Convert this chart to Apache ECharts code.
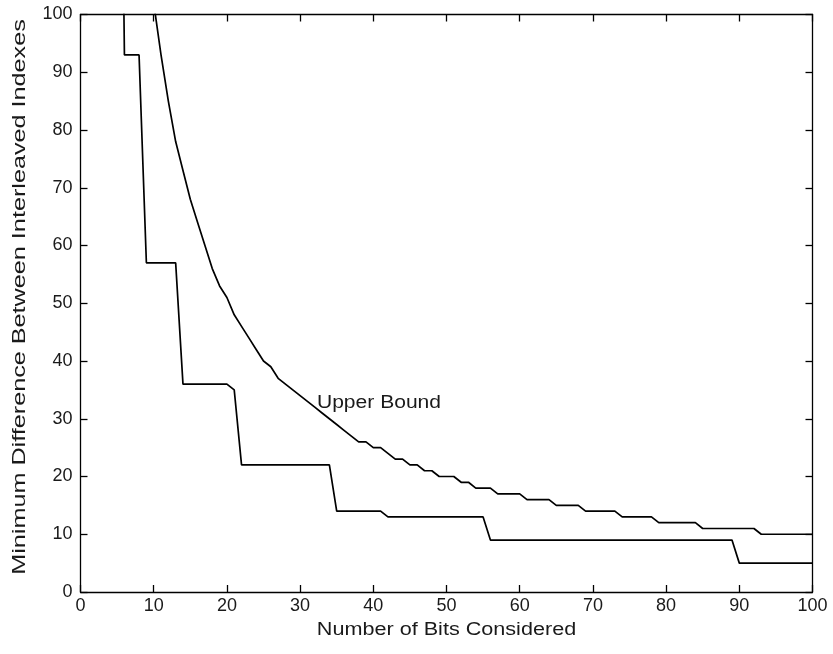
<!DOCTYPE html>
<html>
<head>
<meta charset="utf-8">
<script src="https://cdn.jsdelivr.net/npm/echarts@6/dist/echarts.min.js"></script>
<style>
  html, body { margin: 0; padding: 0; background: #fff; }
  #chart { width: 833px; height: 654px; }
</style>
</head>
<body>
<div id="chart"></div>
<script>
// lower curve: achieved minimum difference, only the corner points
const lowerBits = [5, 6, 8, 9, 13, 14, 20, 21, 22, 34, 35, 41, 42, 55, 56, 89, 90, 100]
const lowerDiff = [200, 93, 93, 57, 57, 36, 36, 35, 22, 22, 14, 14, 13, 13, 9, 9, 5, 5]

// upper bound, one value per bit count starting at 10
const upperStart = 10
const upperDiff = [
  102, 93, 85, 78, 73, 68, 64, 60, 56, 53,
  51, 48, 46, 44, 42, 40, 39, 37, 36, 35,
  34, 33, 32, 31, 30, 29, 28, 27, 26, 26,
  25, 25, 24, 23, 23, 22, 22, 21, 21, 20,
  20, 20, 19, 19, 18, 18, 18, 17, 17, 17,
  17, 16, 16, 16, 16, 15, 15, 15, 15, 14,
  14, 14, 14, 14, 13, 13, 13, 13, 13, 12,
  12, 12, 12, 12, 12, 11, 11, 11, 11, 11,
  11, 11, 11, 10, 10, 10, 10, 10, 10, 10,
  10
]

const xTicks = [0, 10, 20, 30, 40, 50, 60, 70, 80, 90, 100]
const yTicks = [0, 10, 20, 30, 40, 50, 60, 70, 80, 90, 100]

const fontFamily = 'Liberation Sans, Arial, sans-serif'
const textColor = '#1a1a1a'

const frameAxis = {
  min: 0,
  max: 100,
  interval: 10,
  axisLine: { show: true, onZero: false, lineStyle: { color: '#000', width: 1.3 } },
  axisTick: { show: true, inside: true, length: 7, lineStyle: { color: '#000', width: 1.3 } },
  splitLine: { show: false }
}

const chart = echarts.init(document.getElementById('chart'))

const option = {
  backgroundColor: '#fff',
  animation: false,
  grid: { left: 80.5, right: 20.5, top: 14.5, bottom: 62 },
  xAxis: [
    {
      ...frameAxis,
      type: 'value',
      position: 'bottom',
      axisLabel: {
        color: textColor, fontSize: 18, fontFamily, margin: 5,
        customValues: xTicks
      }
    },
    {
      ...frameAxis,
      type: 'value',
      position: 'top',
      axisLabel: { show: false }
    }
  ],
  yAxis: [
    {
      ...frameAxis,
      type: 'value',
      position: 'left',
      axisLabel: {
        color: textColor, fontSize: 18, fontFamily, margin: 8,
        customValues: yTicks
      }
    },
    {
      ...frameAxis,
      type: 'value',
      position: 'right',
      axisLabel: { show: false }
    }
  ],
  series: [
    {
      name: 'Achieved',
      type: 'line',
      data: lowerBits.map((b, i) => [b, lowerDiff[i]]),
      showSymbol: false,
      clip: true,
      lineStyle: { color: '#000', width: 1.7 }
    },
    {
      name: 'Upper Bound',
      type: 'line',
      data: upperDiff.map((v, i) => [upperStart + i, v]),
      showSymbol: false,
      clip: true,
      lineStyle: { color: '#000', width: 1.7 }
    }
  ]
}

chart.setOption(option)

// axis titles and the curve label, stretched a bit like the old raster font
const labelAt = chart.convertToPixel({ xAxisIndex: 0, yAxisIndex: 0 }, [32.3, 32.8])
chart.setOption({
  graphic: [
    {
      type: 'text',
      x: 446.5, y: 630,
      scaleX: 1.2,
      style: {
        text: 'Number of Bits Considered',
        fill: textColor, fontSize: 18, fontFamily,
        align: 'center', verticalAlign: 'middle'
      }
    },
    {
      type: 'text',
      x: 20, y: 297,
      rotation: Math.PI / 2,
      scaleX: 1.4,
      style: {
        text: 'Minimum Difference Between Interleaved Indexes',
        fill: textColor, fontSize: 18, fontFamily,
        align: 'center', verticalAlign: 'middle'
      }
    },
    {
      type: 'text',
      x: labelAt[0], y: labelAt[1],
      scaleX: 1.17,
      style: {
        text: 'Upper Bound',
        fill: textColor, fontSize: 18, fontFamily,
        align: 'left', verticalAlign: 'middle'
      }
    }
  ]
})
</script>
</body>
</html>
